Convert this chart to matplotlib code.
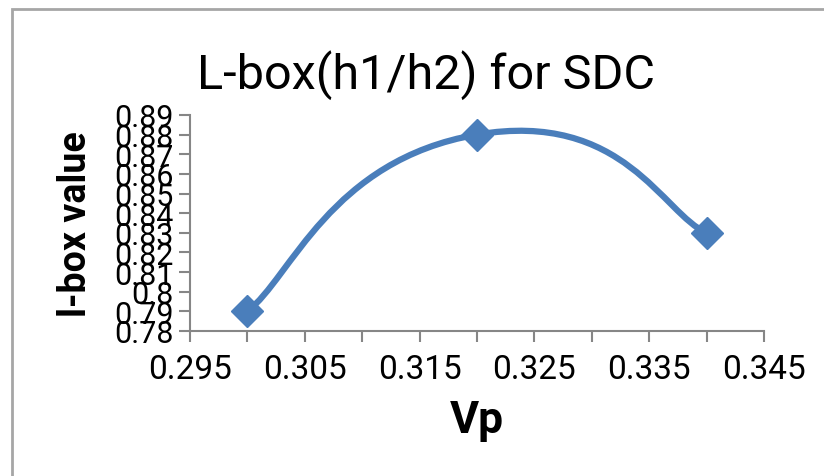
import matplotlib
matplotlib.use("Agg")
import matplotlib.pyplot as plt
from matplotlib.path import Path
from matplotlib.patches import PathPatch, Rectangle
import numpy as np

plt.rcParams['font.family'] = ['Roboto', 'DejaVu Sans']

vp = [0.30, 0.32, 0.34]
lbox = [0.79, 0.88, 0.83]
x_ticks = [0.295, 0.300, 0.305, 0.310, 0.315, 0.320, 0.325, 0.330, 0.335, 0.340, 0.345]
x_labels = ['0.295', '', '0.305', '', '0.315', '', '0.325', '', '0.335', '', '0.345']
y_ticks = [0.78, 0.79, 0.80, 0.81, 0.82, 0.83, 0.84, 0.85, 0.86, 0.87, 0.88, 0.89]
y_labels = ['0.78', '0.79', '0.8', '0.81', '0.82', '0.83', '0.84', '0.85', '0.86', '0.87', '0.88', '0.89']

W, H = 824, 477
fig = plt.figure(figsize=(W / 100, H / 100), dpi=100)
ax = fig.add_axes([190 / W, 1 - 332 / H, (764 - 190) / W, (332 - 116) / H])

color = '#4A7EBB'
axis_col = '#868686'

# Excel-style smoothed line drawn as cubic Bezier segments through the data points
P = np.column_stack([vp, lbox]).astype(float)
n = len(P)
k_int = 0.32      # interior tangent arm factor
e_end = 0.19      # end arms along the first/last chord
T = [None] * n
for i in range(1, n - 1):
    T[i] = (P[i + 1] - P[i - 1]) * k_int
verts = [P[0]]
codes = [Path.MOVETO]
for i in range(n - 1):
    c1 = P[i] + (T[i] if T[i] is not None else (P[i + 1] - P[i]) * e_end)
    c2 = P[i + 1] - (T[i + 1] if T[i + 1] is not None else (P[i + 1] - P[i]) * e_end)
    verts += [c1, c2, P[i + 1]]
    codes += [Path.CURVE4] * 3
ax.add_patch(PathPatch(Path(verts, codes), fill=False, edgecolor=color, lw=4.5,
                       capstyle='round', joinstyle='round', zorder=2))
ax.plot(vp, lbox, linestyle='none', marker='D', markersize=16, color=color, zorder=3)

ax.set_xlim(0.295, 0.345)
ax.set_ylim(0.78, 0.89)
ax.set_xticks(x_ticks)
ax.set_xticklabels(x_labels)
ax.set_yticks(y_ticks)
ax.set_yticklabels(y_labels)
ax.tick_params(axis='both', direction='out', length=8, width=1.5, color=axis_col,
               labelcolor='black')
ax.tick_params(axis='x', pad=8, labelsize=24)
ax.tick_params(axis='y', pad=4, labelsize=22)
for s in ['top', 'right']:
    ax.spines[s].set_visible(False)
for s in ['left', 'bottom']:
    ax.spines[s].set_color(axis_col)
    ax.spines[s].set_linewidth(1.5)

ax.set_xlabel('Vp', fontsize=32, fontweight='bold', labelpad=10)
ax.set_ylabel('l-box value', fontsize=27, fontweight='bold', labelpad=14)

fig.text(426 / W, 1 - 89 / H, 'L-box(h1/h2) for SDC', fontsize=35, ha='center', va='baseline')

# chart border
fig.patches.append(Rectangle((12 / W, -0.1), 1.2, 1 - 10 / H + 0.1, transform=fig.transFigure,
                             fill=False, edgecolor='#A6A6A6', lw=2))

fig.savefig('out.png', dpi=100)
